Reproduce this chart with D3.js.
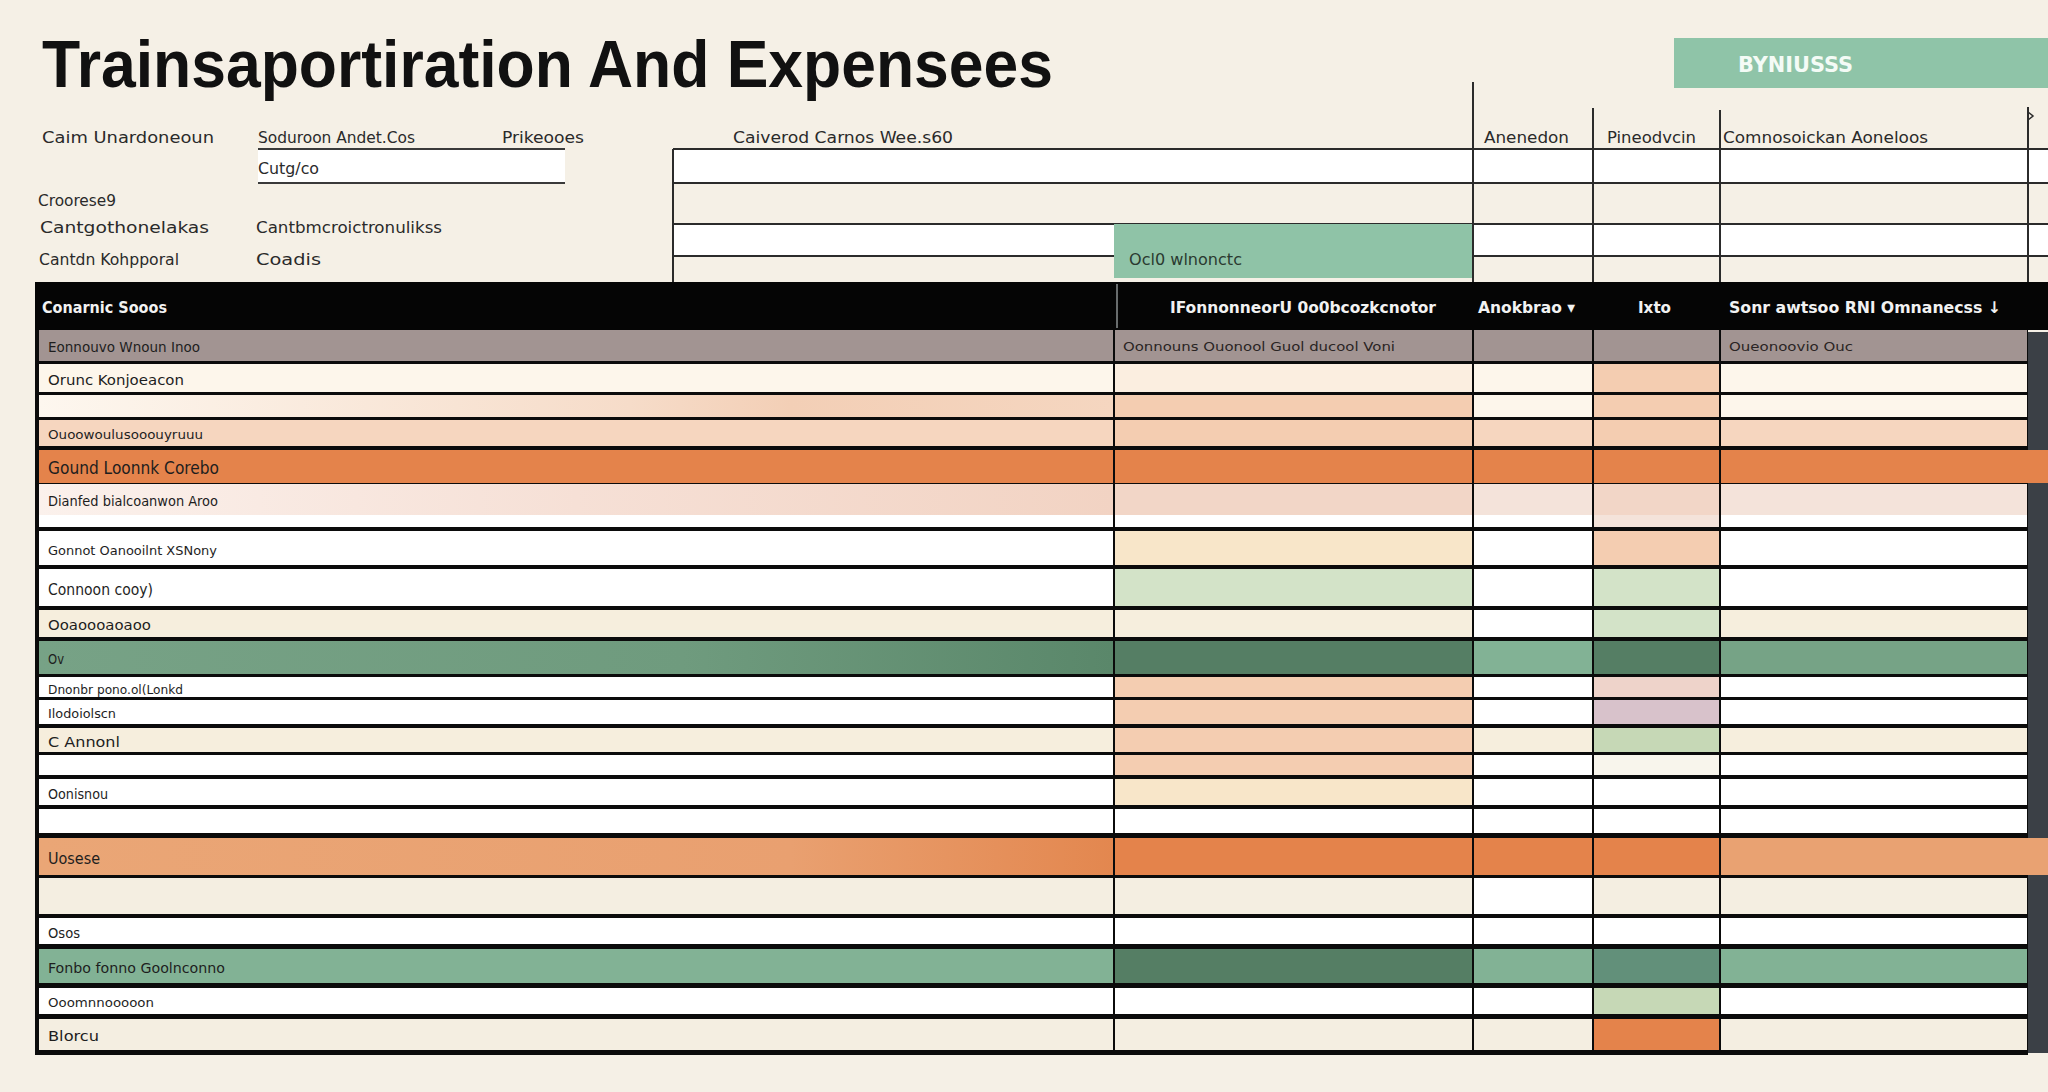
<!DOCTYPE html>
<html>
<head>
<meta charset="utf-8">
<script src="https://cdn.jsdelivr.net/npm/d3@7"></script>
<style>
html, body { margin: 0; padding: 0; background: #f5f0e6; }
svg { display: block; }
</style>
</head>
<body>
<svg id="chart" width="2048" height="1092"></svg>
<script>
// ---- data (text + cell colour keys) ----
var title = "Trainsaportiration And Expensees";
var badge = "BYNIUSSS";

var formLabels = ["Caim Unardoneoun", "Soduroon Andet.Cos", "Prikeooes", "Caiverod Carnos Wee.s60",
                  "Cutg/co", "Croorese9", "Cantgothonelakas", "Cantbmcroictronulikss",
                  "Cantdn Kohpporal", "Coadis", "Anenedon", "Pineodvcin", "Comnosoickan Aoneloos"];
var noteLabel = "Ocl0 wlnonctc";

var headers = ["Conarnic Sooos", "IFonnonneorU 0o0bcozkcnotor", "Anokbrao \u25BE", "Ixto", "Sonr awtsoo RNl Omnanecss \u2193"];

var rowLabels = ["Eonnouvo Wnoun Inoo", "Orunc Konjoeacon", "", "Ouoowoulusooouyruuu", "Gound Loonnk Corebo",
                 "Dianfed bialcoanwon Aroo", "", "Gonnot Oanooilnt XSNony", "Connoon cooy)", "Ooaoooaoaoo",
                 "Ov", "Dnonbr pono.ol(Lonkd", "Ilodoiolscn", "C Annonl", "", "Oonisnou", "", "Uosese", "",
                 "Osos", "Fonbo fonno Goolnconno", "Ooomnnooooon", "Blorcu"];

var cellNotes = [
  {row: 0, col: 1, text: "Oonnouns Ouonool Guol ducool Voni"},
  {row: 0, col: 4, text: "Oueonoovio Ouc"}
];

// colour key per row, one per column
var rowFills = [
  ["gr", "gr", "gr", "gr", "gr"],
  ["cw", "cl", "cw", "pe", "cw"],
  ["fadeP", "pe", "cw", "pe", "cw"],
  ["pl", "pe", "pl", "pe", "pl"],
  ["or", "or", "or", "or", "or"],
  ["fadeR", "ro", "rl", "ro", "rl"],
  ["w", "w", "w", "rl", "w"],
  ["w", "ye", "w", "pe", "w"],
  ["w", "gl", "w", "gl", "w"],
  ["bg", "bg", "w", "gl", "bg"],
  ["fadeG", "gd", "gm", "gd", "gs"],
  ["w", "pe", "w", "pk", "w"],
  ["w", "pe", "w", "mv", "w"],
  ["bg", "pe", "bg", "gv", "bg"],
  ["w", "pe", "w", "wc", "w"],
  ["w", "ye", "w", "w", "w"],
  ["w", "w", "w", "w", "w"],
  ["fadeO", "or", "or", "or", "ol"],
  ["cb", "cb", "w", "cb", "cb"],
  ["w", "w", "w", "w", "w"],
  ["gm", "gd", "gm", "gd2", "gm"],
  ["w", "w", "w", "gv", "w"],
  ["cb", "cb", "cb", "or", "cb"]
];

// ---- layout (positions and sizes, kept apart from the data) ----
var colEdges = [36, 1114, 1473, 1593, 1720, 2028];
var rowTops =    [330, 364, 395, 420, 450, 484, 515, 531, 569, 610, 641, 677, 700, 728, 755, 779, 809, 838, 878, 918, 949, 988, 1019];
var rowBottoms = [361, 392, 417, 446, 483, 515, 527, 565, 606, 637, 674, 697, 724, 752, 775, 805, 833, 875, 914, 944, 983, 1014, 1050];
var labelWidths = [152, 136, 0, 155, 171, 170, 0, 169, 105, 103, 16, 135, 68, 72, 0, 60, 0, 52, 0, 32, 177, 106, 51];
var labelSizes =  [14, 14, 13, 12, 17, 14, 13, 13, 15, 14, 14, 13, 12, 14, 13, 14, 13, 16, 13, 14, 14, 12, 14];
var fullWidthRows = [4, 17];
var formPos = [[42, 137, 172], [258, 137, 157], [502, 137, 82], [733, 137, 220],
               [258, 168, 61], [38, 200, 78], [40, 227, 169], [256, 227, 186],
               [39, 259, 140], [256, 259, 65], [1484, 137, 85], [1607, 137, 89], [1723, 137, 205]];
var headerPos = [[42, 125], [1170, 266], [1478, 97], [1638, 33], [1729, 272]];
var notePos = [[1123, 272], [1729, 124]];

var palette = d3.scaleOrdinal()
  .domain(["w", "cw", "cl", "pe", "pl", "or", "ol", "ro", "rl", "ye", "gl", "bg", "gd", "gd2", "gm", "gs", "pk", "mv", "gv", "wc", "cb", "gr",
           "fadeP", "fadeR", "fadeG", "fadeO"])
  .range(["#ffffff", "#fdf6eb", "#fbeee0", "#f4cdb1", "#f6d6bf", "#e4834b", "#e9a272", "#f2d6c7", "#f4e3da", "#f8e6c9", "#d3e3c8", "#f6eedd",
          "#557e64", "#62907a", "#82b295", "#76a386", "#eed3ca", "#d8c2cb", "#c6d8b6", "#f8f5ec", "#f4eee1", "#a29492",
          "url(#fadeP)", "url(#fadeR)", "url(#fadeG)", "url(#fadeO)"]);

var bodyFont = "'Liberation Sans Narrow', 'DejaVu Sans Condensed', 'Liberation Sans', sans-serif";

var svg = d3.select("#chart");
var defs = svg.append("defs");

function grad(id, stops) {
  var g = defs.append("linearGradient").attr("id", id);
  stops.forEach(function(s) {
    g.append("stop").attr("offset", s[0]).attr("stop-color", s[1]);
  });
}
grad("fadeP", [[0, "#fdf7ef"], [0.55, "#f6dcc9"], [0.7, "#f3cfb6"], [1, "#f5d6c0"]]);
grad("fadeR", [[0, "#fbf1ec"], [0.5, "#f6e0d6"], [1, "#f2d3c3"]]);
grad("fadeG", [[0, "#77a286"], [0.6, "#6f9b7e"], [1, "#5a876a"]]);
grad("fadeO", [[0, "#eaa676"], [0.7, "#e9a070"], [1, "#e3874f"]]);

var x = d3.scaleLinear().domain(d3.range(colEdges.length)).range(colEdges);
var yTop = d3.scaleLinear().domain(d3.range(rowTops.length)).range(rowTops);
var yBot = d3.scaleLinear().domain(d3.range(rowBottoms.length)).range(rowBottoms);

svg.append("rect").attr("width", 2048).attr("height", 1092).attr("fill", "#f5f0e6");

// title
svg.append("text")
  .attr("x", 42).attr("y", 87)
  .attr("font-family", "'Liberation Sans', Arial, sans-serif")
  .attr("font-weight", 700).attr("font-size", 66)
  .attr("textLength", 1011).attr("lengthAdjust", "spacingAndGlyphs")
  .attr("fill", "#111").text(title);

// badge
svg.append("rect").attr("x", 1674).attr("y", 38).attr("width", 374).attr("height", 50).attr("fill", "#8fc4a8");
svg.append("text").attr("x", 1738).attr("y", 72)
  .attr("font-family", bodyFont).attr("font-weight", 700).attr("font-size", 22)
  .attr("textLength", 115).attr("lengthAdjust", "spacingAndGlyphs")
  .attr("fill", "#f4fbf6").text(badge);

// upper form area
var form = svg.append("g");
form.append("rect").attr("x", 673).attr("y", 149).attr("width", 1375).attr("height", 34).attr("fill", "#fff");
form.append("rect").attr("x", 673).attr("y", 224).attr("width", 1375).attr("height", 32).attr("fill", "#fff");
form.append("rect").attr("x", 258).attr("y", 149).attr("width", 307).attr("height", 34).attr("fill", "#fff");
[149, 183, 224, 256].forEach(function(yy) {
  form.append("line").attr("x1", 673).attr("x2", 2048).attr("y1", yy).attr("y2", yy)
    .attr("stroke", "#2b2b2b").attr("stroke-width", 2);
});
[149, 183].forEach(function(yy) {
  form.append("line").attr("x1", 258).attr("x2", 565).attr("y1", yy).attr("y2", yy)
    .attr("stroke", "#3a3a3a").attr("stroke-width", 2);
});
form.append("rect").attr("x", 1114).attr("y", 224).attr("width", 359).attr("height", 54).attr("fill", "#8fc3a7");
[[673, 149], [1473, 82], [1593, 108], [1720, 110], [2028, 107]].forEach(function(v) {
  form.append("line").attr("x1", v[0]).attr("x2", v[0]).attr("y1", v[1]).attr("y2", 282)
    .attr("stroke", "#2b2b2b").attr("stroke-width", 2);
});
form.append("path").attr("d", "M2028,112 l5,4 l-5,4").attr("fill", "none").attr("stroke", "#2b2b2b").attr("stroke-width", 1.5);

form.selectAll("text.flab").data(formLabels).enter().append("text")
  .attr("class", "flab")
  .attr("x", function(d, i) { return formPos[i][0]; })
  .attr("y", function(d, i) { return formPos[i][1]; })
  .attr("dy", "0.35em")
  .attr("font-family", bodyFont).attr("font-size", 16)
  .attr("textLength", function(d, i) { return formPos[i][2]; })
  .attr("lengthAdjust", "spacingAndGlyphs")
  .attr("fill", "#2a2a2a").text(function(d) { return d; });
form.append("text").attr("x", 1129).attr("y", 260).attr("dy", "0.35em")
  .attr("font-family", bodyFont).attr("font-size", 15)
  .attr("textLength", 113).attr("lengthAdjust", "spacingAndGlyphs")
  .attr("fill", "#2a3a30").text(noteLabel);

// table frame
svg.append("rect").attr("x", 35).attr("y", 282).attr("width", 2013).attr("height", 48).attr("fill", "#050505");
svg.append("rect").attr("x", 35).attr("y", 330).attr("width", 1993).attr("height", 725).attr("fill", "#0b0b0b");
svg.append("rect").attr("x", 2028).attr("y", 332).attr("width", 20).attr("height", 721).attr("fill", "#3b4046");
svg.append("line").attr("x1", 1117).attr("x2", 1117).attr("y1", 284).attr("y2", 328)
  .attr("stroke", "#8a8f90").attr("stroke-width", 1.5);

svg.selectAll("text.head").data(headers).enter().append("text")
  .attr("class", "head")
  .attr("x", function(d, i) { return headerPos[i][0]; })
  .attr("y", 307).attr("dy", "0.35em")
  .attr("font-family", bodyFont).attr("font-weight", 700).attr("font-size", 16)
  .attr("textLength", function(d, i) { return headerPos[i][1]; })
  .attr("lengthAdjust", "spacingAndGlyphs")
  .attr("fill", "#f2f2f2").text(function(d) { return d; });

// cells
var cells = [];
rowFills.forEach(function(r, ri) {
  r.forEach(function(key, ci) { cells.push({row: ri, col: ci, key: key}); });
});

svg.append("g").selectAll("rect").data(cells).enter().append("rect")
  .attr("x", function(d) { return d.col === 0 ? x(0) + 3 : x(d.col) + 1; })
  .attr("y", function(d) { return yTop(d.row); })
  .attr("width", function(d) {
    var right = (d.col === 4 && fullWidthRows.indexOf(d.row) >= 0) ? 2048 : x(d.col + 1) - 1;
    var left = d.col === 0 ? x(0) + 3 : x(d.col) + 1;
    return right - left;
  })
  .attr("height", function(d) { return yBot(d.row) - yTop(d.row); })
  .attr("fill", function(d) { return palette(d.key); });

// row labels
svg.append("g").selectAll("text").data(rowLabels).enter().append("text")
  .filter(function(d) { return d !== ""; })
  .attr("x", 48)
  .attr("y", function(d) { var i = rowLabels.indexOf(d); return (yTop(i) + yBot(i)) / 2 + 2; })
  .attr("dy", "0.35em")
  .attr("font-family", bodyFont)
  .attr("font-size", function(d) { return labelSizes[rowLabels.indexOf(d)]; })
  .attr("textLength", function(d) { return labelWidths[rowLabels.indexOf(d)]; })
  .attr("lengthAdjust", "spacingAndGlyphs")
  .attr("fill", "#1e1e1e").text(function(d) { return d; });

svg.append("g").selectAll("text").data(cellNotes).enter().append("text")
  .attr("x", function(d, i) { return notePos[i][0]; })
  .attr("y", function(d) { return (yTop(d.row) + yBot(d.row)) / 2 + 1; })
  .attr("dy", "0.35em")
  .attr("font-family", bodyFont).attr("font-size", 13)
  .attr("textLength", function(d, i) { return notePos[i][1]; })
  .attr("lengthAdjust", "spacingAndGlyphs")
  .attr("fill", "#2a2424").text(function(d) { return d.text; });
</script>
</body>
</html>
